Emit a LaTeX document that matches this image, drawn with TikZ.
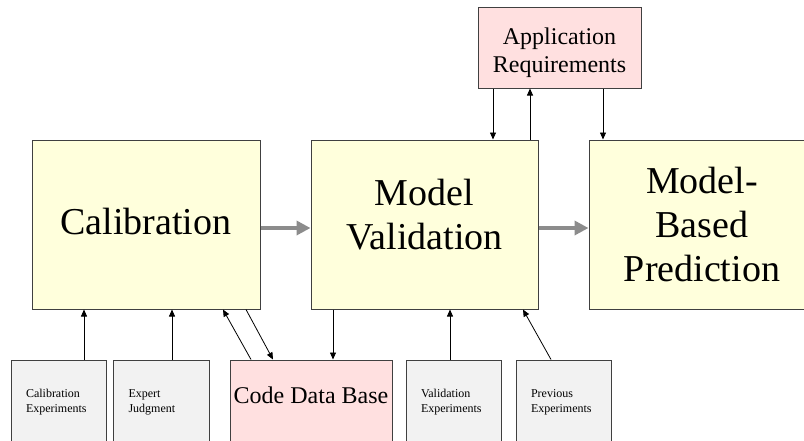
\documentclass[tikz,border=0pt]{standalone}
\usepackage{fontspec}
\setmainfont{Liberation Serif}
\usetikzlibrary{arrows.meta}
\definecolor{boxyellow}{HTML}{FFFFDC}
\definecolor{boxpink}{HTML}{FFE0E0}
\definecolor{boxgray}{HTML}{F2F2F2}
\definecolor{edgegray}{HTML}{404040}
\definecolor{flowgray}{HTML}{8C8C8C}
\tikzset{
  big text/.style={font=\fontsize{38}{44}\selectfont, align=center},
  mid text/.style={font=\fontsize{24}{28}\selectfont, align=center},
  small text/.style={font=\fontsize{12}{15}\selectfont, align=left, text width=65pt},
  main box/.style={rectangle, draw=edgegray, fill=boxyellow, line width=1pt, minimum height=169pt, inner sep=0pt},
  req box/.style={rectangle, draw=edgegray, fill=boxpink, line width=1pt, inner sep=0pt},
  input box/.style={rectangle, draw=edgegray, fill=boxgray, line width=1pt, minimum width=95pt, minimum height=84pt, inner sep=0pt, small text},
  thin arrow/.style={-{Triangle[length=7pt,width=6pt]}, line width=0.8pt},
  flow arrow/.style={-{Triangle[length=14pt,width=14pt]}, line width=4pt, flowgray}
}
\begin{document}
\begin{tikzpicture}[x=1pt, y=-1pt]
\useasboundingbox (0,0) rectangle (804,440);
\clip (0,0) rectangle (804,440);
% main stages
\node [main box, minimum width=228pt, label={[big text, yshift=3pt]center:Calibration}] (calib) at (146,224.5) {};
\node [main box, minimum width=227pt, label={[big text, yshift=10pt]center:{Model\\Validation}}] (valid) at (424.5,224.5) {};
\node [main box, minimum width=226pt, big text] (pred) at (702,224.5) {Model-\\Based\\Prediction};
% requirements and data base
\node [req box, minimum width=163pt, minimum height=81pt, label={[mid text, yshift=-5pt]center:{Application\\Requirements}}] (appreq) at (559.5,47.5) {};
\node [req box, minimum width=162pt, minimum height=84pt, label={[mid text, yshift=7pt]center:Code Data Base}] (codedb) at (311,402) {};
% inputs
\node [input box] (calexp) at (58.5,402) {Calibration\\Experiments};
\node [input box, minimum width=96pt] (expert) at (161,402) {Expert\\Judgment};
\node [input box] (valexp) at (453.5,402) {Validation\\Experiments};
\node [input box] (prevexp) at (563.5,402) {Previous\\Experiments};
% flow between stages
\draw [flow arrow] (calib.east |- 0,228) -- (valid.west |- 0,228);
\draw [flow arrow] (valid.east |- 0,228) -- (pred.west |- 0,228);
% thin links
\draw [thin arrow] (calexp.north -| 84,0) -- (calib.south -| 84,0);
\draw [thin arrow] (expert.north -| 172,0) -- (calib.south -| 172,0);
\draw [thin arrow] (codedb.north -| 251,0) -- (calib.south -| 223,0);
\draw [thin arrow] (calib.south -| 246,0) -- (codedb.north -| 273,0);
\draw [thin arrow] (valid.south -| 333,0) -- (codedb.north -| 333,0);
\draw [thin arrow] (valexp.north -| 450,0) -- (valid.south -| 450,0);
\draw [thin arrow] (prevexp.north -| 551,0) -- (valid.south -| 523,0);
\draw [thin arrow] (appreq.south -| 493,0) -- (valid.north -| 493,0);
\draw [thin arrow] (valid.north -| 530,0) -- (appreq.south -| 530,0);
\draw [thin arrow] (appreq.south -| 603,0) -- (pred.north -| 603,0);
\end{tikzpicture}
\end{document}
